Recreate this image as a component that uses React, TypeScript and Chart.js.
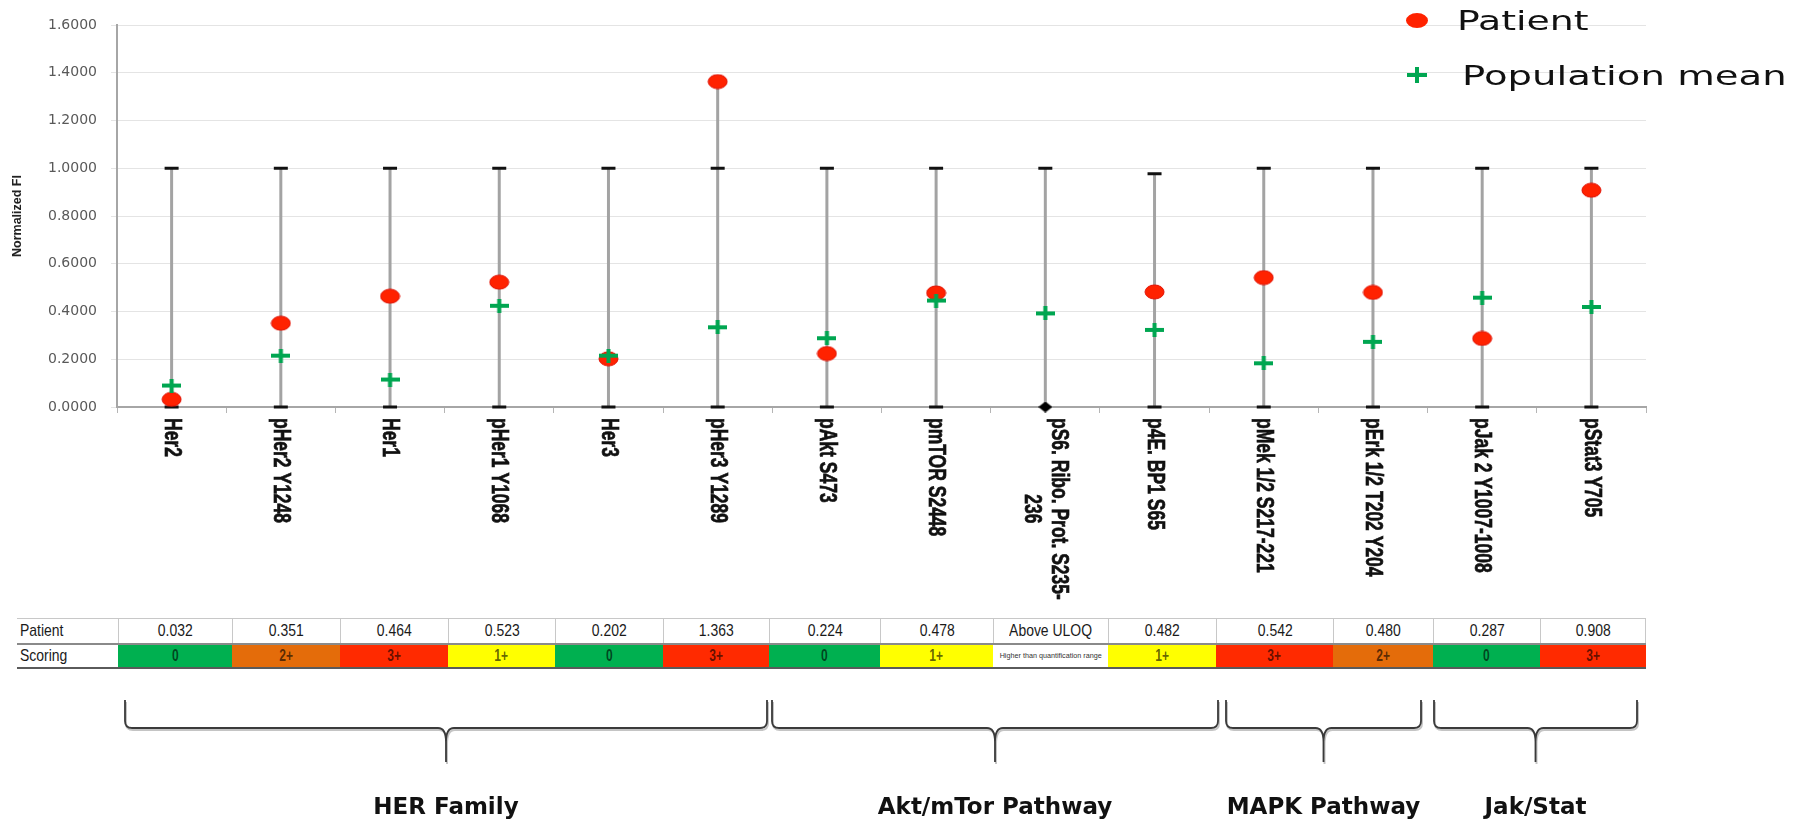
import React, { useEffect, useRef } from 'react';
import { Chart, registerables } from 'chart.js';

Chart.register(...registerables);

// ---------------- data ----------------
const categories: (string | string[])[] = [
  'Her2',
  'pHer2 Y1248',
  'Her1',
  'pHer1 Y1068',
  'Her3',
  'pHer3 Y1289',
  'pAkt S473',
  'pmTOR S2448',
  ['pS6. Ribo. Prot. S235-', '236'],
  'p4E. BP1 S65',
  'pMek 1/2 S217-221',
  'pErk 1/2 T202 Y204',
  'pJak 2 Y1007-1008',
  'pStat3 Y705',
];

const patientValues: (number | null)[] = [
  0.032, 0.351, 0.464, 0.523, 0.202, 1.363, 0.224, 0.478, null, 0.482, 0.542, 0.48, 0.287, 0.908,
];

const populationMean: number[] = [
  0.09, 0.215, 0.115, 0.424, 0.215, 0.334, 0.288, 0.446, 0.392, 0.323, 0.183, 0.273, 0.458, 0.419,
];

const rangeLow: number[] = [0, 0, 0, 0, 0, 0, 0, 0, 0, 0, 0, 0, 0, 0];
const rangeHigh: number[] = [1, 1, 1, 1, 1, 1, 1, 1, 1, 0.977, 1, 1, 1, 1];

// marker shown at the bottom when the patient value is above the upper limit of quantification
const uloqMarker: (number | null)[] = [null, null, null, null, null, null, null, null, 0, null, null, null, null, null];

const patientTableText: string[] = [
  '0.032', '0.351', '0.464', '0.523', '0.202', '1.363', '0.224', '0.478', 'Above ULOQ', '0.482', '0.542', '0.480', '0.287', '0.908',
];

const scoringText: string[] = ['0', '2+', '3+', '1+', '0', '3+', '0', '1+', '', '1+', '3+', '2+', '0', '3+'];
const scoringNote: string[] = ['', '', '', '', '', '', '', '', 'Higher than quantification range', '', '', '', '', ''];

const groupNames: string[] = ['HER Family', 'Akt/mTor Pathway', 'MAPK Pathway', 'Jak/Stat'];

const yMin = 0;
const yMax = 1.6;
const yStep = 0.2;

// ---------------- layout / style ----------------
const COL_EDGES = [118, 232, 340, 448, 555, 663, 769, 880, 993, 1108, 1216, 1333, 1433, 1540, 1646];
const BRACE_SPANS: [number, number][] = [
  [125, 767],
  [772, 1218],
  [1226, 1421],
  [1434, 1637],
];
const SCORE_COLORS: Record<string, string> = {
  '0': '#00b050',
  '1+': '#ffff00',
  '2+': '#e46c0a',
  '3+': '#ff2a00',
  '': '#ffffff',
};
const RED = '#ff2200';
const GREEN = '#00a651';

function makeEllipse(w: number, h: number, fill: string, stroke: string) {
  const c = document.createElement('canvas');
  c.width = w + 2;
  c.height = h + 2;
  const ctx = c.getContext('2d')!;
  ctx.beginPath();
  ctx.ellipse(c.width / 2, c.height / 2, w / 2, h / 2, 0, 0, Math.PI * 2);
  ctx.fillStyle = fill;
  ctx.fill();
  ctx.lineWidth = 1;
  ctx.strokeStyle = stroke;
  ctx.stroke();
  return c;
}

function makePlus(w: number, h: number, t: number, color: string) {
  const c = document.createElement('canvas');
  c.width = w;
  c.height = h;
  const ctx = c.getContext('2d')!;
  ctx.fillStyle = color;
  ctx.fillRect(0, (h - t) / 2, w, t);
  ctx.fillRect((w - t) / 2, 0, t, h);
  return c;
}

function makeDiamond(w: number, h: number, color: string) {
  const c = document.createElement('canvas');
  c.width = w;
  c.height = h;
  const ctx = c.getContext('2d')!;
  ctx.beginPath();
  ctx.moveTo(w / 2, 0);
  ctx.lineTo(w, h / 2);
  ctx.lineTo(w / 2, h);
  ctx.lineTo(0, h / 2);
  ctx.closePath();
  ctx.fillStyle = color;
  ctx.fill();
  return c;
}

const errorBarPlugin = {
  id: 'errorBars',
  beforeDatasetsDraw(chart: any) {
    const { ctx, scales } = chart;
    const xs = scales.x;
    const ys = scales.y;
    ctx.save();
    for (let i = 0; i < categories.length; i++) {
      const px = xs.getPixelForValue(i);
      const p = patientValues[i];
      const topVal = Math.max(rangeHigh[i], p == null ? 0 : p);
      ctx.strokeStyle = '#a3a3a3';
      ctx.lineWidth = 3;
      ctx.beginPath();
      ctx.moveTo(px, ys.getPixelForValue(rangeLow[i]));
      ctx.lineTo(px, ys.getPixelForValue(topVal));
      ctx.stroke();
      ctx.strokeStyle = '#111';
      ctx.lineWidth = 3;
      ctx.beginPath();
      const yh = ys.getPixelForValue(rangeHigh[i]);
      ctx.moveTo(px - 7, yh);
      ctx.lineTo(px + 7, yh);
      if (uloqMarker[i] == null) {
        const yl = ys.getPixelForValue(rangeLow[i]);
        ctx.moveTo(px - 7, yl);
        ctx.lineTo(px + 7, yl);
      }
      ctx.stroke();
    }
    ctx.restore();
  },
};

const xLabelPlugin = {
  id: 'rotatedCategoryLabels',
  afterDraw(chart: any) {
    const { ctx, scales, chartArea } = chart;
    const xs = scales.x;
    const top = chartArea.bottom + 11;
    ctx.save();
    ctx.font = 'bold 17.5px "Liberation Sans", Arial, sans-serif';
    ctx.fillStyle = '#111';
    ctx.strokeStyle = '#111';
    ctx.lineWidth = 0.5;
    ctx.textBaseline = 'middle';
    ctx.textAlign = 'center';
    (chart.data.labels as any[]).forEach((lab, i) => {
      const lines: string[] = Array.isArray(lab) ? lab : [lab];
      const w = Math.max(...lines.map((l) => ctx.measureText(l).width));
      const px = xs.getPixelForValue(i);
      ctx.save();
      ctx.translate(px, top);
      ctx.rotate(Math.PI / 2);
      ctx.scale(1, 1.4);
      lines.forEach((l, j) => {
        const ly = (j - (lines.length - 1) / 2) * 19;
        ctx.fillText(l, w / 2, ly);
        ctx.strokeText(l, w / 2, ly);
      });
      ctx.restore();
    });
    ctx.restore();
  },
};

function bracePath(x0: number, x1: number) {
  const yTop = 700;
  const yLine = 728;
  const yTip = 762;
  const r = 7;
  const xc = (x0 + x1) / 2;
  return [
    `M${x0},${yTop}`,
    `L${x0},${yLine - r}`,
    `Q${x0},${yLine} ${x0 + r},${yLine}`,
    `L${xc - 8},${yLine}`,
    `Q${xc},${yLine} ${xc},${yLine + 14}`,
    `L${xc},${yTip}`,
    `M${xc},${yLine + 14}`,
    `Q${xc},${yLine} ${xc + 8},${yLine}`,
    `L${x1 - r},${yLine}`,
    `Q${x1},${yLine} ${x1},${yLine - r}`,
    `L${x1},${yTop}`,
  ].join(' ');
}

const narrow = (scale: number): React.CSSProperties => ({
  display: 'inline-block',
  transform: `scaleX(${scale})`,
  whiteSpace: 'nowrap',
});

export default function App() {
  const ref = useRef<HTMLCanvasElement>(null);

  useEffect(() => {
    const dot = makeEllipse(19, 14, RED, '#e01000');
    const plus = makePlus(19, 14, 4, GREEN);
    const diamond = makeDiamond(14, 11, '#000');
    const chart = new Chart(ref.current!, {
      type: 'line',
      data: {
        labels: categories as any,
        datasets: [
          {
            label: 'Population mean',
            data: populationMean,
            showLine: false,
            pointStyle: plus as any,
            pointRadius: 8,
            order: 0,
            clip: false,
          },
          {
            label: 'Patient',
            data: patientValues,
            showLine: false,
            pointStyle: dot as any,
            pointRadius: 8,
            order: 1,
            clip: false,
          },
          {
            label: 'Above ULOQ',
            data: uloqMarker,
            showLine: false,
            pointStyle: diamond as any,
            pointRadius: 6,
            order: 2,
            clip: false,
          },
        ],
      },
      options: {
        responsive: false,
        animation: false,
        devicePixelRatio: 1,
        layout: { padding: { top: 25, right: 168, left: 0, bottom: 0 } },
        plugins: { legend: { display: false }, tooltip: { enabled: false } },
        scales: {
          x: {
            type: 'category',
            offset: true,
            grid: {
              display: true,
              drawOnChartArea: false,
              offset: true,
              tickLength: 6,
              color: '#b5b5b5',
            },
            border: { color: '#a6a6a6', width: 2 },
            ticks: { display: false },
            afterFit: (s: any) => {
              s.height = 193;
            },
          },
          y: {
            min: yMin,
            max: yMax,
            ticks: {
              stepSize: yStep,
              callback: (v: any) => Number(v).toFixed(4),
              font: { family: '"DejaVu Sans", sans-serif', size: 14 },
              color: '#595959',
              padding: 14,
            },
            grid: { color: '#e4e4e4', tickLength: 6 },
            border: { color: '#a6a6a6', width: 2 },
            title: {
              display: true,
              text: 'Normalized FI',
              font: { family: '"Liberation Sans", Arial, sans-serif', size: 12.5, weight: 'bold' },
              color: '#222',
              padding: { top: 10, bottom: 0 },
            },
            afterFit: (s: any) => {
              s.width = 117;
            },
          },
        },
      },
      plugins: [errorBarPlugin, xLabelPlugin],
    } as any);
    return () => chart.destroy();
  }, []);

  const tableLeft = 17;
  const r1Top = 618;
  const r1H = 25;
  const r2Top = 644;
  const r2H = 23;
  const tableRight = COL_EDGES[COL_EDGES.length - 1];

  return (
    <div
      style={{
        position: 'absolute',
        left: 0,
        top: 0,
        width: 1814,
        height: 822,
        background: '#fff',
        overflow: 'hidden',
      }}
    >
      <canvas
        ref={ref}
        width={1814}
        height={600}
        style={{ position: 'absolute', left: 0, top: 0, width: 1814, height: 600 }}
      />

      {/* legend */}
      <div
        style={{
          position: 'absolute',
          left: 1406,
          top: 13,
          width: 22,
          height: 15,
          borderRadius: '50%',
          background: RED,
        }}
      />
      <div
        style={{
          position: 'absolute',
          left: 1457,
          top: 5,
          fontFamily: '"DejaVu Sans", sans-serif',
          fontSize: 27,
          lineHeight: '32px',
          color: '#111',
          transform: 'scaleX(1.4)',
          transformOrigin: 'left center',
          whiteSpace: 'nowrap',
        }}
      >
        Patient
      </div>
      <div style={{ position: 'absolute', left: 1407, top: 73, width: 20, height: 4, background: GREEN }} />
      <div style={{ position: 'absolute', left: 1415, top: 67, width: 4, height: 16, background: GREEN }} />
      <div
        style={{
          position: 'absolute',
          left: 1462,
          top: 60,
          fontFamily: '"DejaVu Sans", sans-serif',
          fontSize: 27,
          lineHeight: '32px',
          color: '#111',
          transform: 'scaleX(1.43)',
          transformOrigin: 'left center',
          whiteSpace: 'nowrap',
        }}
      >
        Population mean
      </div>

      {/* table */}
      <div
        style={{
          position: 'absolute',
          left: tableLeft,
          top: r1Top,
          width: tableRight - tableLeft,
          height: 1,
          background: '#c8c8c8',
        }}
      />
      <div
        style={{
          position: 'absolute',
          left: tableLeft,
          top: r1Top,
          width: COL_EDGES[0] - tableLeft,
          height: r1H,
          display: 'flex',
          alignItems: 'center',
          paddingLeft: 3,
          fontFamily: '"Liberation Sans", Arial, sans-serif',
          fontSize: 17,
          color: '#1a1a1a',
        }}
      >
        <span style={{ ...narrow(0.82), transformOrigin: 'left center' }}>Patient</span>
      </div>
      <div
        style={{
          position: 'absolute',
          left: tableLeft,
          top: r2Top,
          width: COL_EDGES[0] - tableLeft,
          height: r2H,
          display: 'flex',
          alignItems: 'center',
          paddingLeft: 3,
          fontFamily: '"Liberation Sans", Arial, sans-serif',
          fontSize: 17,
          color: '#1a1a1a',
        }}
      >
        <span style={{ ...narrow(0.82), transformOrigin: 'left center' }}>Scoring</span>
      </div>
      {patientTableText.map((t, i) => (
        <div
          key={'p' + i}
          style={{
            position: 'absolute',
            left: COL_EDGES[i],
            top: r1Top + 1,
            width: COL_EDGES[i + 1] - COL_EDGES[i],
            height: r1H - 1,
            borderLeft: '1px solid #c8c8c8',
            borderRight: i === patientTableText.length - 1 ? '1px solid #c8c8c8' : undefined,
            boxSizing: 'border-box',
            display: 'flex',
            alignItems: 'center',
            justifyContent: 'center',
            fontFamily: '"Liberation Sans", Arial, sans-serif',
            fontSize: 17,
            color: '#1a1a1a',
          }}
        >
          <span style={narrow(0.82)}>{t}</span>
        </div>
      ))}
      {scoringText.map((t, i) => (
        <div
          key={'s' + i}
          style={{
            position: 'absolute',
            left: COL_EDGES[i],
            top: r2Top,
            width: COL_EDGES[i + 1] - COL_EDGES[i],
            height: r2H,
            background: SCORE_COLORS[t],
            display: 'flex',
            alignItems: 'center',
            justifyContent: 'center',
            fontFamily: '"Liberation Sans", Arial, sans-serif',
            fontSize: scoringNote[i] ? 8 : 16,
            fontWeight: scoringNote[i] ? 'normal' : 'bold',
            color: scoringNote[i] ? '#333' : 'rgba(0,0,0,0.62)',
          }}
        >
          <span style={narrow(scoringNote[i] ? 0.9 : 0.75)}>{scoringNote[i] || t}</span>
        </div>
      ))}
      <div
        style={{
          position: 'absolute',
          left: tableLeft,
          top: r2Top - 1,
          width: tableRight - tableLeft,
          height: 2,
          background: '#8a8a8a',
        }}
      />
      <div
        style={{
          position: 'absolute',
          left: tableLeft,
          top: r2Top + r2H,
          width: tableRight - tableLeft,
          height: 2,
          background: '#5a5a5a',
        }}
      />

      {/* group braces */}
      <svg
        width={1814}
        height={822}
        style={{ position: 'absolute', left: 0, top: 0, pointerEvents: 'none' }}
      >
        {BRACE_SPANS.map(([a, b], i) => (
          <g key={i}>
            <path
              d={bracePath(a, b)}
              transform="translate(1,2)"
              fill="none"
              stroke="#c4c4c4"
              strokeWidth={2}
            />
            <path d={bracePath(a, b)} fill="none" stroke="#3a3a3a" strokeWidth={1.8} />
          </g>
        ))}
      </svg>
      {groupNames.map((g, i) => {
        const c = (BRACE_SPANS[i][0] + BRACE_SPANS[i][1]) / 2;
        return (
          <div
            key={g}
            style={{
              position: 'absolute',
              left: c - 200,
              top: 792,
              width: 400,
              textAlign: 'center',
              fontFamily: '"DejaVu Sans", sans-serif',
              fontWeight: 'bold',
              fontSize: 23,
              lineHeight: '28px',
              color: '#111',
              whiteSpace: 'nowrap',
            }}
          >
            {g}
          </div>
        );
      })}
    </div>
  );
}
